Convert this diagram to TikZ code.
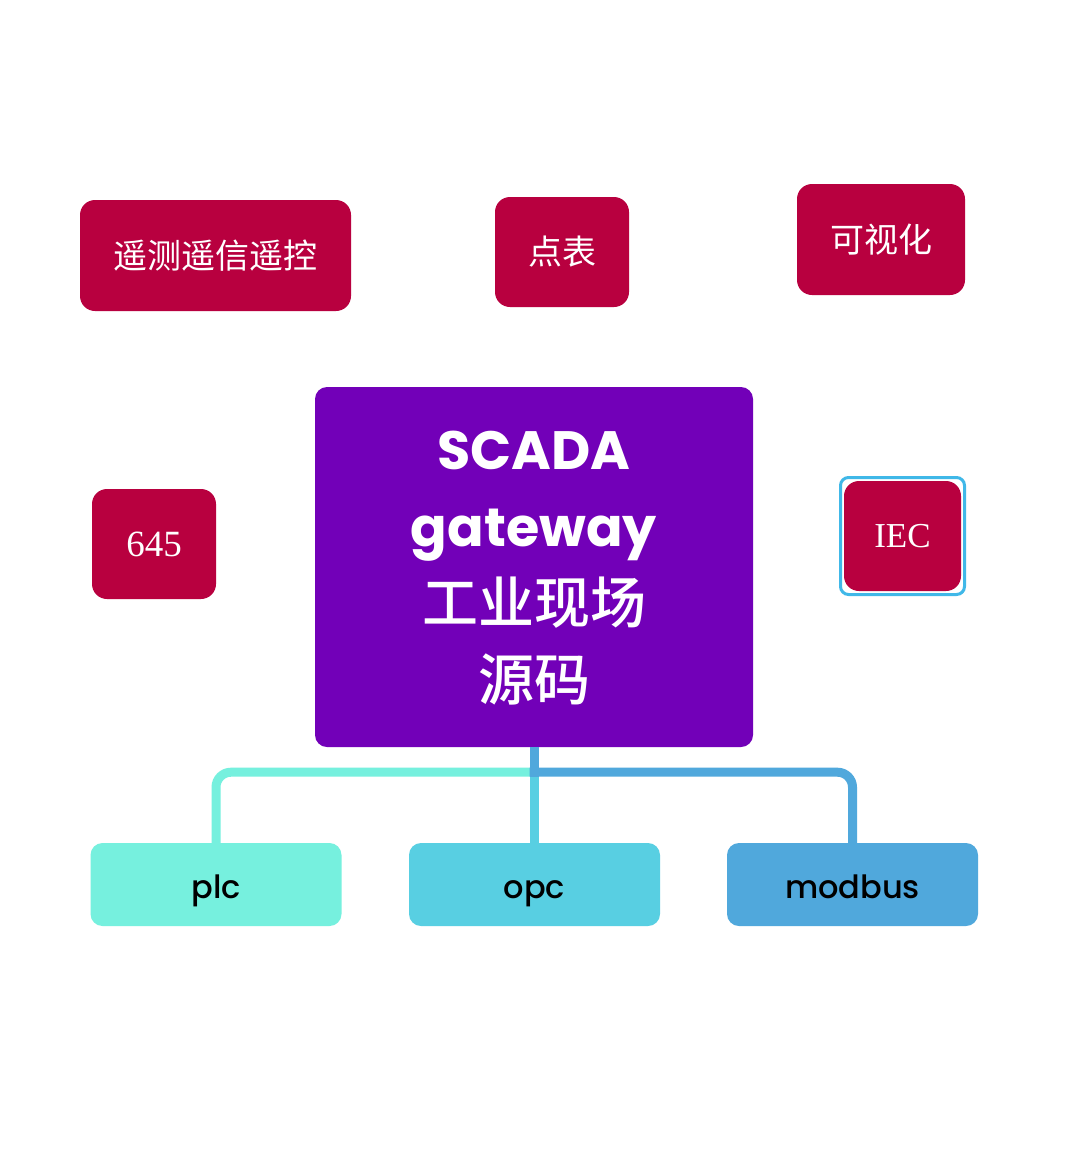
\documentclass[tikz,border=0pt]{standalone}
\usepackage{fontspec}
\usetikzlibrary{calc}
\newfontfamily\popf{Poppins}
\newfontfamily\popmed{Poppins Medium}
\newfontfamily\cjkf{Noto Sans CJK SC}
\newfontfamily\cjkm{Noto Sans CJK SC Medium}
\newfontfamily\serf{Liberation Serif}
\definecolor{crim}{HTML}{B8003F}
\definecolor{purp}{HTML}{7200B8}
\definecolor{plcc}{HTML}{76F0DE}
\definecolor{opcc}{HTML}{58CFE2}
\definecolor{modc}{HTML}{50A8DC}
\definecolor{ringc}{HTML}{40B8E8}
\tikzset{
  redbox/.style={fill=crim, rounded corners=15pt, inner sep=0pt, text=white, draw=none},
  cjklabel/.style={font=\cjkf\fontsize{34}{40}\selectfont},
  serlabel/.style={font=\serf\fontsize{37}{40}\selectfont},
  bottombox/.style={rounded corners=12pt, inner sep=0pt, minimum width=251pt, minimum height=83pt, text=black, text height=30pt, text depth=3pt, font=\popmed\fontsize{32}{36}\selectfont},
  conn/.style={line width=9pt, line cap=butt},
}
\begin{document}
\begin{tikzpicture}[x=1pt,y=-1pt]
\useasboundingbox[fill=white] (0,0) rectangle (1079,1149);
% top row
\node[redbox, cjklabel, minimum width=271pt, minimum height=111pt] (tele) at (215.5,255.5) {遥测遥信遥控};
\node[redbox, cjklabel, minimum width=134pt, minimum height=110pt] (pts) at (562,252) {点表};
\node[redbox, cjklabel, minimum width=168pt, minimum height=111pt] (vis) at (881,239.5) {可视化};
% side
\node[redbox, serlabel, minimum width=124pt, minimum height=110pt] (p645) at (154,544) {645};
\node[draw=ringc, line width=3pt, rounded corners=8pt, minimum width=124pt, minimum height=117pt, inner sep=0pt] (ring) at (902.5,536) {};
\node[redbox, serlabel, minimum width=117pt, minimum height=110pt, font=\serf\fontsize{35}{40}\selectfont] (iec) at (902.5,536) {IEC};
% centre
\node[fill=purp, rounded corners=12pt, minimum width=438pt, minimum height=360pt, inner sep=0pt, text=white, align=center, font=\popf\bfseries\fontsize{54}{77}\selectfont] (core) at (534,567)
  {\vphantom{S}\\[-74pt]SCADA\\gateway\\{\cjkm\mdseries\fontsize{56}{77}\selectfont 工业现场}\\{\cjkm\mdseries\fontsize{56}{77}\selectfont 源码}};
% bottom
\node[bottombox, fill=plcc] (plc) at (216,884.5) {plc};
\node[bottombox, fill=opcc] (opc) at (534.5,884.5) {opc};
\node[bottombox, fill=modc] (mod) at (852.5,884.5) {modbus};
% connectors
\coordinate (hl) at ($(core.south)+(0,25)$);
\draw[conn, draw=plcc, rounded corners=15pt] (hl) -| (plc.north);
\draw[conn, draw=opcc] (core.south) -- (core.south |- opc.north);
\draw[conn, draw=modc] (core.south) -- ($(hl)+(0,4.5)$);
\draw[conn, draw=modc, rounded corners=15pt] ($(hl)+(-4.5,0)$) -| (mod.north);
\end{tikzpicture}
\end{document}
